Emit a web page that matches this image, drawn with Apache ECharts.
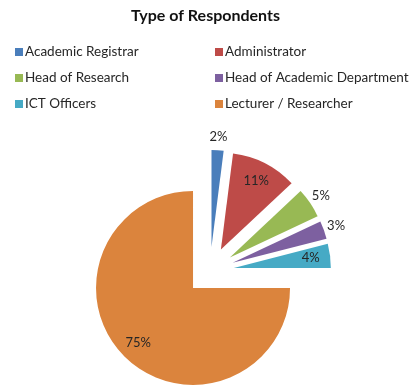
<!DOCTYPE html>
<html>
<head>
<meta charset="utf-8">
<script src="https://cdn.jsdelivr.net/npm/echarts@6/dist/echarts.min.js"></script>
<style>
  html, body { margin: 0; padding: 0; background: #fff; }
  #chart { width: 411px; height: 387px; }
</style>
</head>
<body>
<div id="chart"></div>
<script>
// Respondent groups and their share (%)
const categories = [
  'Academic Registrar',
  'Administrator',
  'Head of Research',
  'Head of Academic Department',
  'ICT Officers',
  'Lecturer / Researcher'
];
const shares = [2, 11, 5, 3, 4, 75];
const colors = ['#4A7EBB', '#BE4B48', '#98B954', '#7D60A0', '#46AAC5', '#DB843D'];

// Legend columns (two columns, three rows)
const legendLeft = ['Academic Registrar', 'Head of Research', 'ICT Officers'];
const legendRight = ['Administrator', 'Head of Academic Department', 'Lecturer / Researcher'];

// Slices whose percentage sits inside the wedge
const insideLabels = new Set(['Administrator', 'ICT Officers', 'Lecturer / Researcher']);

const FONT = 'Lato, "Open Sans", sans-serif';
const CX = 210, CY = 271, R = 97, EXPLODE = 24;

const total = shares.reduce((a, b) => a + b, 0);
const before = shares.map((_, i) => shares.slice(0, i).reduce((a, b) => a + b, 0));

const chart = echarts.init(document.getElementById('chart'), null, { renderer: 'canvas' });

const legendCommon = {
  orient: 'vertical',
  top: 40,
  itemWidth: 8,
  itemHeight: 8,
  itemGap: 12,
  icon: 'rect',
  selectedMode: false,
  textStyle: { fontFamily: FONT, fontSize: 13.5, color: '#262626', padding: [0, 0, 0, -3] }
};

const pieData = categories.map((name, i) => ({ name: name, value: shares[i] }));

chart.setOption({
  animation: false,
  color: colors,
  title: {
    text: 'Type of Respondents',
    left: 'center',
    top: 3,
    textStyle: { fontFamily: FONT, fontSize: 16, fontWeight: 'bold', color: '#111' }
  },
  legend: [
    Object.assign({ left: 10, data: legendLeft }, legendCommon),
    Object.assign({ left: 210, data: legendRight }, legendCommon)
  ],
  series: [{
    // exploded wedges
    type: 'pie',
    center: [CX, CY],
    radius: R,
    startAngle: 90,
    clockwise: true,
    selectedMode: 'multiple',
    selectedOffset: EXPLODE,
    emphasis: { disabled: true },
    label: { show: false },
    labelLine: { show: false },
    data: pieData.map(d => Object.assign({ selected: true }, d))
  }, {
    // percentage labels, laid out along each wedge's bisector
    type: 'pie',
    center: [CX, CY],
    radius: R,
    startAngle: 90,
    clockwise: true,
    silent: true,
    avoidLabelOverlap: false,
    itemStyle: { color: 'rgba(0,0,0,0)' },
    emphasis: { disabled: true },
    labelLine: { show: false },
    label: {
      show: true,
      formatter: '{d}%',
      fontFamily: FONT,
      fontSize: 13,
      color: '#262626'
    },
    labelLayout: function (p) {
      const i = p.dataIndex;
      const a = (before[i] + shares[i] / 2) / total * Math.PI * 2;
      const dx = Math.sin(a), dy = -Math.cos(a);
      const vx = CX + EXPLODE * dx, vy = CY + EXPLODE * dy;
      const dist = insideLabels.has(categories[i]) ? R * 0.8 : R + 13;
      return { x: vx + dist * dx, y: vy + dist * dy, align: 'center', verticalAlign: 'middle' };
    },
    data: pieData
  }]
});
</script>
</body>
</html>
